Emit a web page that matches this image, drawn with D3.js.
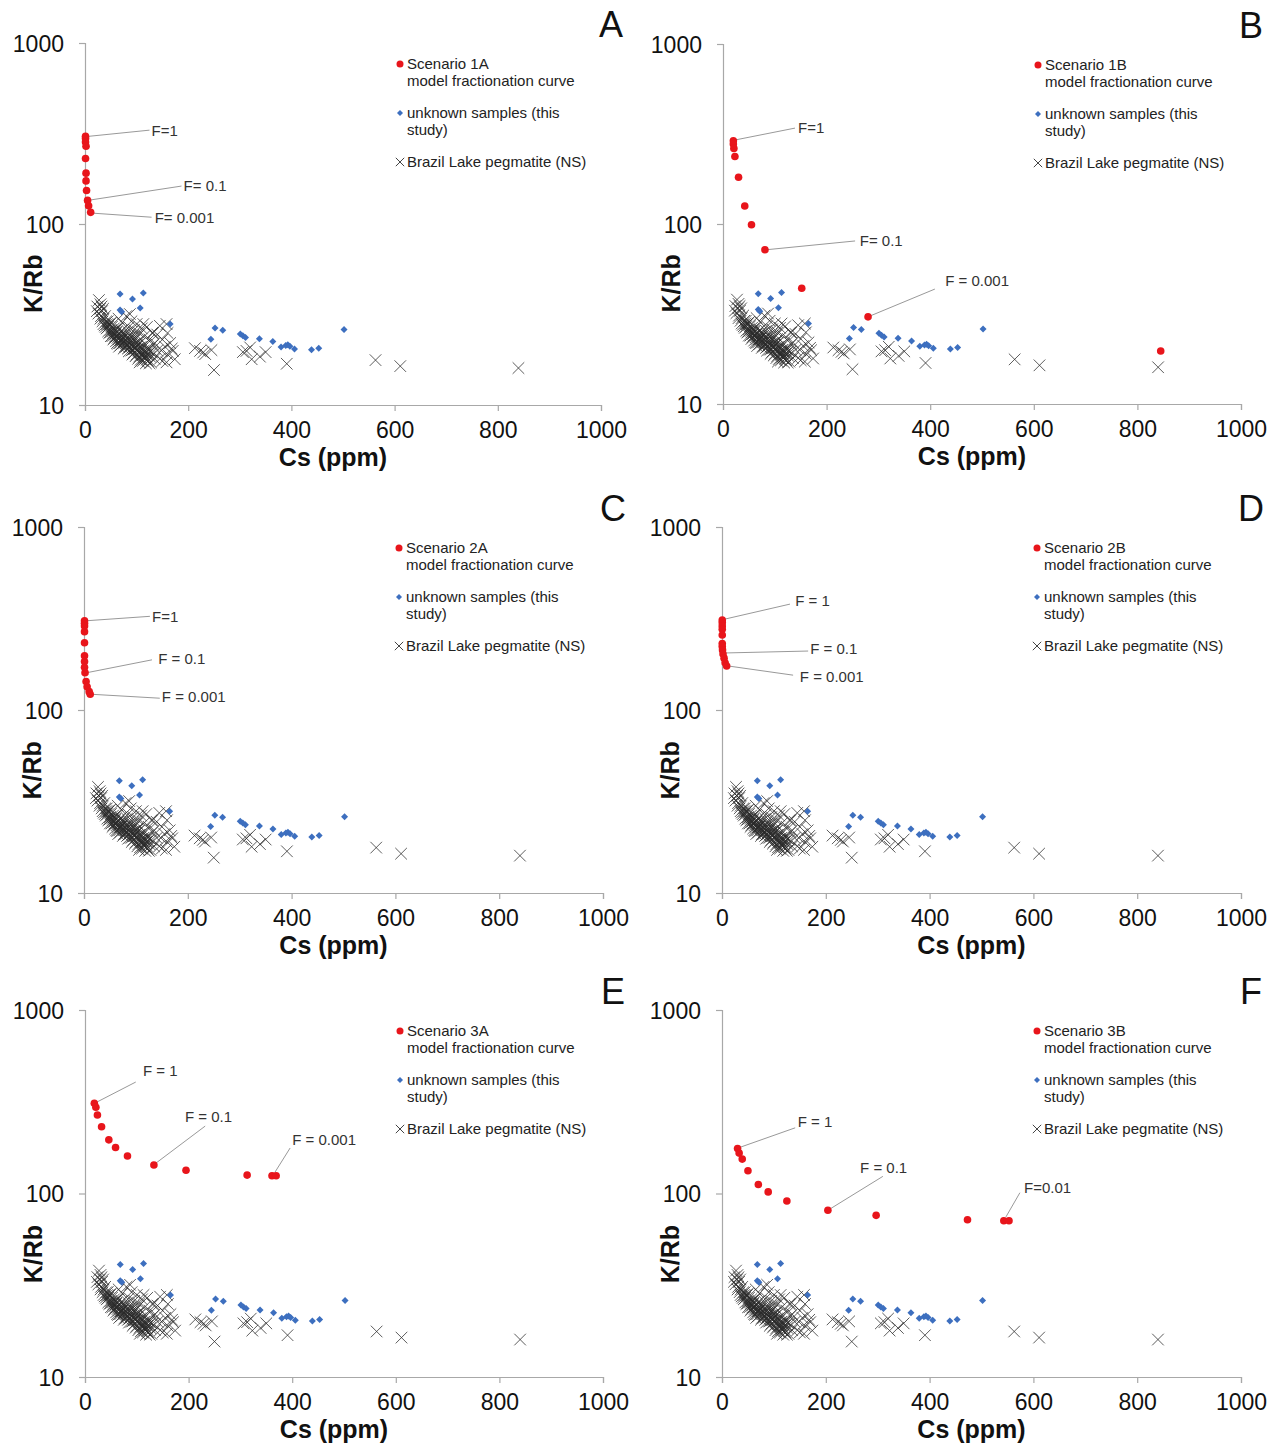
<!DOCTYPE html>
<html>
<head>
<meta charset="utf-8">
<script src="https://cdn.jsdelivr.net/npm/d3@7"></script>
<style>
  body { margin: 0; background: #fff; }
  svg { font-family: "Liberation Sans", Arial, sans-serif; }
</style>
</head>
<body>
<svg id="chart" width="1273" height="1445"></svg>
<script>
"use strict";

// /////// DATA

const xTicks = [0, 200, 400, 600, 800, 1000];
const yTicks = [10, 100, 1000];
const panelLetters = ["A", "B", "C", "D", "E", "F"];
const scenarioNames = ["Scenario 1A", "Scenario 1B", "Scenario 2A", "Scenario 2B", "Scenario 3A", "Scenario 3B"];

// [Cs ppm, K/Rb] model fractionation curves
const scenario1A = [[1, 305], [1, 297], [1, 284], [2, 269], [1, 230], [2, 191], [2, 173], [3, 153], [5, 135], [7, 126], [11, 116]];
const scenario1B = [[20, 290], [20, 278], [21, 263], [23, 237], [30, 182], [42, 126], [55, 99], [81, 72], [152, 44], [280, 30.5], [845, 19.7]];
const scenario2A = [[1, 307], [1, 298], [1, 288], [1, 268], [1, 233], [1, 198], [1, 184], [1, 171], [2, 160], [4, 143], [6, 134], [10, 126], [12, 122]];
const scenario2B = [[0.5, 310], [0.5, 300], [0.5, 288], [0.5, 276], [0.5, 257], [0.5, 231], [0.5, 222], [1, 213], [2, 202], [4, 192], [6, 181], [9, 174]];
const scenario3A = [[18, 310], [21, 295], [24, 268], [32, 231], [46, 196], [59, 178], [82, 160], [133, 143], [195, 134], [313, 126], [361, 125], [369, 125]];
const scenario3B = [[30, 176], [33, 166], [39, 154], [50, 133], [70, 112], [89, 102], [125, 91], [204, 81], [297, 76], [473, 72], [543, 71], [553, 71]];

// unknown samples (this study)
const unknownSamples = [
  [68, 41], [113, 41.6], [92, 38.5], [68, 33.5], [71, 32.8], [107, 34.3], [165, 28],
  [244, 23.1], [252, 26.6], [267, 25.9], [301, 24.7], [306, 24.1], [311, 23.6],
  [338, 23.2], [364, 22.4], [380, 20.9], [389, 21.3], [393, 21.5], [397, 21.1],
  [406, 20.4], [439, 20.2], [453, 20.6], [502, 26.1]
];

// Brazil Lake pegmatite (NS)
const brazilLake = [
  [27, 38], [24, 35], [30, 36], [23, 33], [26, 32], [29, 34], [31, 31], [33, 33], [36, 30],
  [34, 29], [39, 31], [41, 29], [43, 28], [38, 27.5], [45, 27], [44, 29], [48, 28], [50, 26],
  [47, 25], [52, 27], [55, 25], [53, 24], [58, 26], [57, 23.5], [60, 25], [62, 24], [60, 22.5],
  [65, 23], [63, 26.5], [67, 25], [68, 22], [70, 24], [72, 23], [70, 21.5], [75, 22.5], [74, 25],
  [77, 21], [78, 24], [80, 22], [82, 23.5], [83, 20.5], [85, 22], [87, 21], [88, 24], [90, 20],
  [92, 22.5], [94, 21], [95, 19.5], [97, 23], [98, 20.5], [100, 19], [102, 21.5], [104, 20],
  [105, 18.5], [107, 22], [108, 19.5], [110, 21], [112, 18.8], [114, 20], [116, 18], [118, 21.5],
  [120, 19], [122, 17.5], [124, 20], [126, 18.5], [128, 17.2], [130, 19.5],
  [65, 30], [72, 28.5], [80, 31], [85, 27], [90, 29], [95, 26], [100, 28], [105, 25], [110, 26.5],
  [115, 24], [120, 27], [125, 23], [130, 25], [135, 22], [140, 24.5], [145, 27.4], [150, 23],
  [155, 21], [158, 28], [160, 25], [165, 22], [170, 19.9], [174, 17.9], [168, 20.5], [150, 17.5],
  [158, 17.2], [145, 18], [140, 20], [135, 18], [132, 21.5], [148, 20], [160, 19],
  [40, 27], [45, 25.5], [50, 24], [55, 23], [58, 24.5], [62, 22], [66, 21], [70, 23], [75, 20.5],
  [80, 21], [85, 19.8], [88, 22.5], [92, 19], [96, 20.5], [100, 22], [103, 18], [108, 17.8],
  [112, 17.5], [115, 19], [118, 17], [50, 28.5], [35, 34], [32, 35], [30, 30], [36, 28],
  [87, 31.8], [113, 28], [132, 25],
  [54, 25.5], [59, 24], [63, 23.5], [66, 24.5], [69, 22.8], [73, 23.5], [76, 22], [79, 23],
  [81, 21.5], [84, 22.8], [86, 20.8], [89, 21.5], [91, 23.5], [93, 20.2], [96, 21.8], [99, 21],
  [101, 20.2], [103, 22.5], [106, 20.8], [109, 19], [111, 20.5], [113, 19.4], [117, 19.6],
  [119, 18.4], [121, 20.5], [123, 19.2], [127, 19.8], [42, 26.5], [46, 27.8], [49, 25.2],
  [56, 26.5], [61, 25.5], [64, 21.8], [71, 25.8], [77, 24.8], [83, 25.5], [94, 24.5], [102, 24],
  [98, 18.6], [106, 17.2], [114, 18.3], [120, 17.8], [125, 17],
  [213, 20.6], [223, 19.9], [229, 19.5], [233, 19.1], [245, 20.1], [250, 15.6], [306, 19.6],
  [313, 19.9], [320, 20.8], [323, 17.9], [339, 18.5], [350, 19.6], [391, 16.9], [563, 17.7],
  [611, 16.4], [840, 16.0]
];

// Leader labels: text position, leader end, point end (all in data units)
const labels1A = [
  { text: "F=1", t: [129, 327], l: [125, 330], p: [7, 305] },
  { text: "F= 0.1", t: [191, 162], l: [187, 162], p: [5, 135] },
  { text: "F= 0.001", t: [135, 108], l: [129, 109], p: [11, 115] }
];
const labels1B = [
  { text: "F=1", t: [145, 341], l: [139, 341], p: [21, 292] },
  { text: "F= 0.1", t: [264, 80.5], l: [255, 80.5], p: [85, 72] },
  { text: "F = 0.001", t: [429, 48.2], l: [409, 43.5], p: [280, 30.5] }
];
const labels2A = [
  { text: "F=1", t: [131, 322], l: [127, 325], p: [2, 307] },
  { text: "F = 0.1", t: [143, 190], l: [131, 188], p: [6, 160] },
  { text: "F = 0.001", t: [150, 118], l: [146, 116], p: [12, 122] }
];
const labels2B = [
  { text: "F = 1", t: [141, 394], l: [131, 379], p: [6, 314] },
  { text: "F = 0.1", t: [170, 215], l: [166, 210], p: [8, 205] },
  { text: "F = 0.001", t: [150, 151], l: [137, 155], p: [12, 174] }
];
const labels3A = [
  { text: "F = 1", t: [112, 465], l: [98, 405], p: [23, 315] },
  { text: "F = 0.1", t: [193, 261], l: [232, 233], p: [135, 145] },
  { text: "F = 0.001", t: [400, 196], l: [396, 177], p: [367, 131] }
];
const labels3B = [
  { text: "F = 1", t: [146, 245], l: [141, 228], p: [31, 177] },
  { text: "F = 0.1", t: [266, 139], l: [310, 124], p: [204, 81] },
  { text: "F=0.01", t: [582, 108], l: [574, 101], p: [547, 74.5] }
];

const scenarios = [scenario1A, scenario1B, scenario2A, scenario2B, scenario3A, scenario3B];
const scenarioLabels = [labels1A, labels1B, labels2A, labels2B, labels3A, labels3B];

// Plot areas [left, top, right, bottom] in px
const plotBoxes = [
  [85, 43, 601, 405], [723, 44, 1241, 404],
  [84, 527, 603, 893], [722, 527, 1241, 893],
  [85, 1010, 603, 1377], [722, 1010, 1241, 1377]
];

// /////// DRAWING

const svg = d3.select("#chart");
const RED = "#e8151b";
const BLUE = "#3d6fbf";
const XCOL = "#2a2a2a";
const AXIS = "#a8a8a8";

function diamondPath(r) {
  return `M0,${-r}L${r},0L0,${r}L${-r},0Z`;
}
function crossPath(r) {
  return `M${-r},${-r}L${r},${r}M${-r},${r}L${r},${-r}`;
}

function drawPanel(i) {
  const [left, top, right, bottom] = plotBoxes[i];
  const x = d3.scaleLinear().domain([0, 1000]).range([left, right]);
  const y = d3.scaleLog().domain([10, 1000]).range([bottom, top]);

  const g = svg.append("g").attr("class", "panel");

  // Axes
  const xAxis = g.append("g")
    .attr("transform", `translate(0,${bottom})`)
    .call(d3.axisBottom(x).tickValues(xTicks).tickSize(6).tickPadding(11).tickFormat(d3.format("d")));
  const yAxis = g.append("g")
    .attr("transform", `translate(${left},0)`)
    .call(d3.axisLeft(y).tickValues(yTicks).tickSize(6).tickPadding(15).tickFormat(d3.format("d")));

  [xAxis, yAxis].forEach((ax) => {
    ax.select(".domain").attr("stroke", AXIS).attr("stroke-width", 1.2);
    ax.selectAll(".tick line").attr("stroke", AXIS).attr("stroke-width", 1.2);
    ax.selectAll(".tick text")
      .attr("fill", "#111")
      .style("font-size", "23px")
      .style("font-family", "'Liberation Sans', Arial, sans-serif");
  });
  yAxis.selectAll(".tick text").attr("dy", "0.35em");

  // Axis titles
  g.append("text")
    .attr("x", (left + right) / 2 - 10)
    .attr("y", bottom + 61)
    .attr("text-anchor", "middle")
    .attr("font-size", 25)
    .attr("font-weight", "bold")
    .attr("fill", "#111")
    .text("Cs (ppm)");

  const ky = top + (bottom - top) * 0.665;
  g.append("text")
    .attr("transform", `translate(${left - 43},${ky}) rotate(-90)`)
    .attr("text-anchor", "middle")
    .attr("font-size", 25)
    .attr("font-weight", "bold")
    .attr("fill", "#111")
    .text("K/Rb");

  // Panel letter
  g.append("text")
    .attr("x", right + 10)
    .attr("y", top - 6)
    .attr("text-anchor", "middle")
    .attr("font-size", 36)
    .attr("fill", "#111")
    .text(panelLetters[i]);

  // Brazil Lake crosses
  g.append("g")
    .selectAll("path")
    .data(brazilLake)
    .join("path")
    .attr("d", crossPath(5.8))
    .attr("transform", (d) => `translate(${x(d[0])},${y(d[1])})`)
    .attr("fill", "none")
    .attr("stroke", XCOL)
    .attr("stroke-width", 0.9)
    .attr("stroke-opacity", 0.85);

  // Unknown samples
  g.append("g")
    .selectAll("path")
    .data(unknownSamples)
    .join("path")
    .attr("d", diamondPath(3.5))
    .attr("transform", (d) => `translate(${x(d[0])},${y(d[1])})`)
    .attr("fill", BLUE);

  // Leader lines and labels
  const lab = g.append("g").selectAll("g").data(scenarioLabels[i]).join("g");
  lab.append("line")
    .attr("x1", (d) => x(d.p[0]))
    .attr("y1", (d) => y(d.p[1]))
    .attr("x2", (d) => x(d.l[0]))
    .attr("y2", (d) => y(d.l[1]))
    .attr("stroke", "#999")
    .attr("stroke-width", 1);
  lab.append("text")
    .attr("x", (d) => x(d.t[0]))
    .attr("y", (d) => y(d.t[1]))
    .attr("dy", "0.35em")
    .attr("font-size", 15)
    .attr("fill", "#333")
    .text((d) => d.text);

  // Model curve
  g.append("g")
    .selectAll("circle")
    .data(scenarios[i])
    .join("circle")
    .attr("cx", (d) => x(d[0]))
    .attr("cy", (d) => y(d[1]))
    .attr("r", 3.8)
    .attr("fill", RED);

  // Legend
  const lg = g.append("g").attr("transform", `translate(${left + 315},${top + 21})`);
  const legendText = (yy, lines) => {
    const t = lg.append("text").attr("x", 7).attr("y", yy).attr("font-size", 15).attr("fill", "#222");
    lines.forEach((ln, k) => {
      t.append("tspan").attr("x", 7).attr("dy", k === 0 ? "0.35em" : "1.12em").text(ln);
    });
  };
  lg.append("circle").attr("cx", 0).attr("cy", 0).attr("r", 3.5).attr("fill", RED);
  legendText(0, [scenarioNames[i], "model fractionation curve"]);
  lg.append("path").attr("d", diamondPath(3)).attr("transform", "translate(0,49)").attr("fill", BLUE);
  legendText(49, ["unknown samples (this", "study)"]);
  lg.append("path").attr("d", crossPath(4.2)).attr("transform", "translate(0,98)")
    .attr("fill", "none").attr("stroke", "#444").attr("stroke-width", 1);
  legendText(98, ["Brazil Lake pegmatite (NS)"]);
}

for (let i = 0; i < plotBoxes.length; i++) drawPanel(i);
</script>
</body>
</html>
